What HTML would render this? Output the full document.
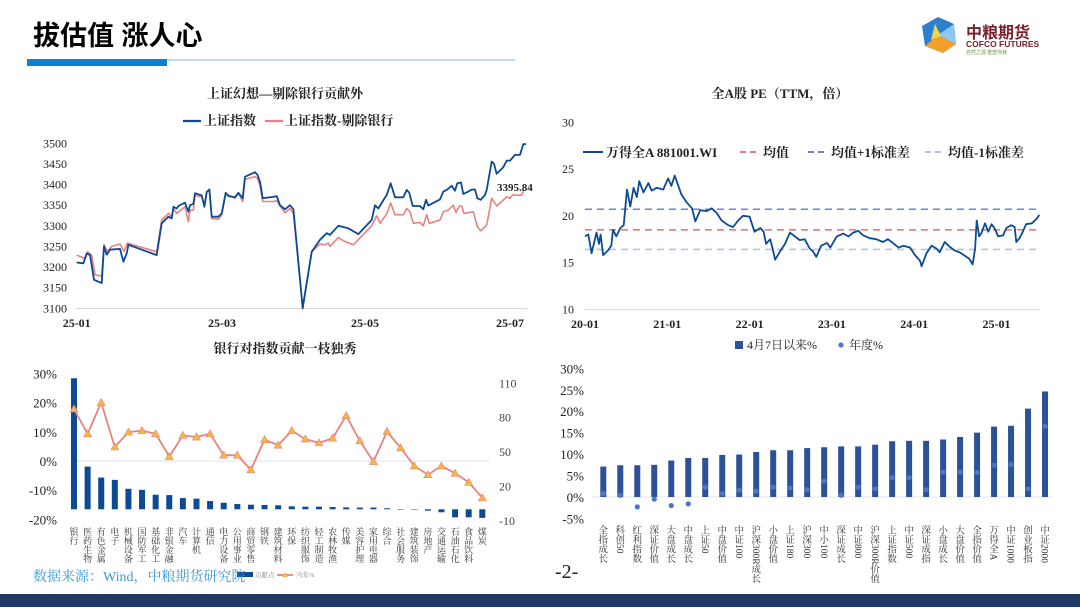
<!DOCTYPE html>
<html><head><meta charset="utf-8">
<style>
html,body{margin:0;padding:0;background:#fff;}
body{width:1080px;height:607px;overflow:hidden;position:relative;}
svg text{font-family:"Liberation Serif","Noto Serif CJK SC",serif;}
</style></head>
<body>
<svg id="page" width="1080" height="607" viewBox="0 0 1080 607" xmlns="http://www.w3.org/2000/svg">
  <text x="33" y="45" font-size="27" font-weight="bold" fill="#000" style="font-family:'Liberation Sans','Noto Sans CJK SC',sans-serif">拔估值 涨人心</text>
  <rect x="27" y="59" width="140" height="7" fill="#0a80cf"/>
  <rect x="167" y="59" width="348" height="2" fill="#bcd9ef"/>
  <g>
    <polygon points="938,17 954,24 956,44 943,53 925,46 922,26" fill="#2f7fd0"/>
    <polygon points="938,35 956,44 943,53 925,46" fill="#f2a02a"/>
    <polygon points="938,35 954,24 956,44" fill="#8cc8ef"/>
    <polygon points="935,24 941,36 931,40" fill="#e8d94a"/>
    <text x="966" y="38" font-size="16" font-weight="bold" fill="#7a1f2b" style="font-family:'Liberation Sans','Noto Sans CJK SC',sans-serif">中粮期货</text>
    <text x="966" y="47" font-size="8.5" font-weight="bold" fill="#7a1f2b" style="font-family:'Liberation Sans',sans-serif">COFCO FUTURES</text>
    <text x="966" y="54" font-size="5" fill="#6a9a3a" style="font-family:'Noto Sans CJK SC',sans-serif">自然之源 重塑你我</text>
  </g>
  <g id="c1"></g><g id="c2"></g><g id="c3"></g><g id="c4"></g>
  <text x="33" y="581" font-size="14" fill="#3d9ad9">数据来源：Wind，中粮期货研究院</text>
  <text x="555" y="578" font-size="20" fill="#222">-2-</text>
  <rect x="0" y="594" width="1080" height="13" fill="#1f3864"/>
</svg>
<script>
// ---------- Chart 1 data: 上证指数 vs 剔除银行 ----------
const c1BlueDays=[0,2,3,4,5.2,7.5,8.2,9,10,13,14,15,15.5,24,25.5,27.5,28.5,29,30,30.5,32.5,33.5,34,35,35.5,37.5,38.3,39,39.8,40.5,42.5,43.5,44.7,45.5,47.5,48.5,49.8,50.5,53.5,54.2,55,55.8,59,60,61,62.5,64,65,67.8,70.5,73,75,76,78.5,81.5,84.5,88.5,89.5,90.5,93,94.2,95.5,98,99,99.8,100.8,103,104,104.8,105.5,109,110,111,112.5,113.5,114.2,115.3,116,117.5,118.5,119.5,120.2,121.2,122.5,123,124.5,125.2,126,128,129,130,131.5,133,134,134.8];
const c1BlueVals=[3211,3209,3233,3229,3169,3161,3250,3230,3242,3244,3213,3233,3254,3229,3306,3322,3318,3346,3342,3348,3356,3334,3350,3353,3379,3374,3346,3382,3388,3322,3322,3330,3380,3372,3369,3380,3367,3419,3430,3424,3407,3367,3370,3372,3350,3340,3350,3340,3100,3237,3266,3282,3278,3300,3294,3280,3314,3350,3342,3375,3403,3369,3369,3387,3380,3348,3348,3340,3363,3349,3364,3383,3387,3397,3385,3403,3405,3377,3383,3388,3388,3367,3363,3375,3387,3456,3450,3426,3442,3458,3458,3472,3472,3498,3498];
const c1RedDays=[0,2.5,3.3,4.5,5.5,7.5,8.2,9.2,10.5,13,14.2,15.2,24,25.5,27.5,28.5,29,30,32.5,33.5,34,35,35.5,37.5,38.3,39,39.8,40.5,42.5,43.5,44.7,47.5,48.5,49.8,50.5,53.5,54.2,55,55.8,59,60,61,62.5,64,65,67.8,70.5,73,74.5,75.5,76,78.5,80,81.5,83,88.5,90,91,93,94.2,95.5,98,99,100,101,103,104,105,105.8,109,110,111.5,113,113.8,114.8,115.5,116.2,119,120.2,121.2,123,124.5,126,129,130,130.8,133,133.5,134.2];
const c1RedVals=[3229,3221,3237,3229,3181,3178,3254,3238,3250,3256,3238,3258,3237,3314,3330,3322,3342,3330,3346,3310,3338,3338,3374,3370,3350,3382,3387,3318,3316,3326,3378,3367,3379,3359,3413,3419,3415,3397,3359,3359,3361,3348,3332,3342,3330,3104,3237,3256,3254,3258,3250,3272,3264,3259,3254,3300,3324,3306,3329,3355,3327,3327,3342,3334,3306,3308,3300,3327,3306,3314,3334,3338,3350,3332,3348,3348,3330,3334,3298,3288,3302,3367,3348,3370,3367,3375,3374,3375,3387];
const c1YTicks=[3100,3150,3200,3250,3300,3350,3400,3450,3500];
const c1XTickDays=[0,43.6,86.5,130];
const c1XTickLabels=["25-01","25-03","25-05","25-07"];
const c1Annot=["3395.84"];

// ---------- Chart 2 data: 全A PE ----------
const c2Years=[2020.00,2020.04,2020.08,2020.12,2020.14,2020.17,2020.19,2020.22,2020.28,2020.32,2020.34,2020.38,2020.43,2020.47,2020.51,2020.55,2020.59,2020.63,2020.66,2020.71,2020.77,2020.81,2020.87,2020.95,2021.01,2021.05,2021.09,2021.13,2021.17,2021.23,2021.30,2021.34,2021.40,2021.48,2021.54,2021.60,2021.66,2021.74,2021.80,2021.86,2021.92,2022.00,2022.06,2022.13,2022.17,2022.20,2022.25,2022.28,2022.31,2022.37,2022.43,2022.49,2022.55,2022.61,2022.67,2022.73,2022.77,2022.81,2022.87,2022.94,2022.98,2023.06,2023.14,2023.20,2023.26,2023.32,2023.38,2023.46,2023.54,2023.62,2023.68,2023.74,2023.81,2023.87,2023.95,2024.01,2024.07,2024.09,2024.15,2024.21,2024.27,2024.31,2024.37,2024.43,2024.49,2024.55,2024.62,2024.67,2024.71,2024.74,2024.76,2024.79,2024.82,2024.86,2024.90,2024.94,2024.98,2025.02,2025.08,2025.12,2025.18,2025.22,2025.24,2025.28,2025.32,2025.36,2025.43,2025.49,2025.52];
const c2PE=[17.8,18,16,17.5,18.2,17,18,15.8,16.3,16.8,18.5,17.8,18.7,19,22.8,21,23,22,23.7,22.5,23.5,22.7,23,22.8,24,23.2,24.3,23.3,22.3,21.5,20.8,19.4,20.6,20.5,20.8,20.3,19.5,19,18.8,19.5,20,19.9,18.3,18.7,18.3,17,17.5,16.5,15.3,16.2,17,18.2,17.8,17.4,17.5,16.5,16.2,15.6,16.8,17.1,16.6,17.8,18.1,17.8,18.2,18.4,17.9,17.6,17.5,17.2,17.5,17.1,16.6,16.8,16.6,15.8,15.2,14.6,16,16.8,16.5,16.1,17.2,16.7,16.3,16.1,15.7,15.4,14.8,16.5,19.5,17.8,18.2,19.2,18.3,19.1,18.6,17.8,17.9,18.7,19,18.8,17.2,17.6,18.3,19.1,19.2,19.7,20.1];
const c2Mean=[18.5];
const c2Plus=[20.7];
const c2Minus=[16.4];
const c2YTicks=[10,15,20,25,30];
const c2XTickYears=[2020,2021,2022,2023,2024,2025];
const c2XTickLabels=["20-01","21-01","22-01","23-01","24-01","25-01"];

// ---------- Chart 3 data: 行业贡献 ----------
const c3Cats=["银行","医药生物","有色金属","电子","机械设备","国防军工","基础化工","非银金融","汽车","计算机","通信","电力设备","公用事业","商贸零售","钢铁","建筑材料","环保","纺织服饰","轻工制造","农林牧渔","传媒","美容护理","家用电器","综合","社会服务","建筑装饰","房地产","交通运输","石油石化","食品饮料","煤炭"];
const c3Contrib=[114.4,37.3,27.7,25.7,17.9,17,12.7,12.4,9.8,9.3,7.2,5.7,4.6,4,3.8,3.5,2.6,2.3,2.3,2,1.7,1.5,1.5,0.9,0.1,-0.3,-1.2,-2.6,-7,-7,-7.5];
const c3YearPct=[17.8,9.3,20,4.8,9.9,10.4,9.3,1.5,8.8,8.2,9.3,2.0,2.0,-3.0,7.3,5.4,10.4,7.5,6.2,7.8,15.5,6.9,-0.2,10.1,4.5,-1.7,-4.7,-1.7,-4.2,-7.3,-12.6];
const c3LeftTicks=[-20,-10,0,10,20,30];
const c3RightTicks=[-10,20,50,80,110];

// ---------- Chart 4 data: 指数涨幅 ----------
const c4Cats=["全指成长","科创50","红利指数","深证价值","大盘成长","中盘成长","上证50","中盘价值","中证100","沪深300R成长","小盘价值","上证180","沪深300","中小100","深证成长","中证800","沪深300R价值","上证指数","中证500","深证成指","小盘成长","大盘价值","全指价值","万得全A","中证1000","创业板指","中证2000"];
const c4Since=[7.1,7.4,7.4,7.5,8.5,9.1,9.1,9.8,9.9,10.5,10.9,10.9,11.4,11.6,11.8,11.8,12.2,13,13.1,13.1,13.4,14,15,16.4,16.6,20.6,24.6];
const c4Year=[0.8,0.4,-2.3,-0.5,-2.0,-1.6,2.3,0.8,1.6,1.4,2.3,2.1,1.7,3.7,0.4,2.3,1.9,4.5,4.5,1.7,5.8,5.8,5.7,7.4,7.6,1.9,16.5];
const c4YTicks=[-5,0,5,10,15,20,25,30];

const NS="http://www.w3.org/2000/svg";
function mk(parent,tag,attrs,txt){const e=document.createElementNS(NS,tag);for(const k in attrs)e.setAttribute(k,attrs[k]);if(txt!==undefined)e.textContent=txt;parent.appendChild(e);return e;}
function lin(d0,d1,r0,r1){return v=>r0+(v-d0)*(r1-r0)/(d1-d0);}
function path(xs,ys,fx,fy){return xs.map((x,i)=>(i?'L':'M')+fx(x).toFixed(1)+','+fy(ys[i]).toFixed(1)).join('');}
// vertical label: CJK upright stacked, latin runs rotated 90deg
function vlabel(g,str,cx,top,fs){
  const grp=mk(g,'g',{});
  
  
  const runs=str.match(/[\x00-\x7F]+|[^\x00-\x7F]/g);
  let y=top;
  runs.forEach(r=>{
    if(/^[\x00-\x7F]+$/.test(r)){
      const len=r.length*fs*0.5;
      mk(grp,'text',{x:0,y:0,'font-size':fs,fill:'#333',transform:`translate(${cx-fs*0.35},${y}) rotate(90)`},r);
      y+=len+1;
    }else{
      mk(grp,'text',{x:cx,y:y+fs*0.88,'font-size':fs,fill:'#333','text-anchor':'middle'},r);
      y+=fs;
    }
  });
}

// ===== Chart 1 =====
(function(){
const g=document.getElementById('c1');
const x=lin(0,134.8,76.7,526),y=lin(3100,3500,308.3,143.3);
let t=mk(g,'text',{x:285,y:98,'font-size':13,'font-weight':'bold','text-anchor':'middle',fill:'#222'},'上证幻想—剔除银行贡献外');

let l=mk(g,'line',{x1:183,y1:121,x2:201,y2:121,stroke:'#0c4a94','stroke-width':2.2});

t=mk(g,'text',{x:204,y:125,'font-size':13,'font-weight':'bold',fill:'#222'},'上证指数');

l=mk(g,'line',{x1:265,y1:121,x2:283,y2:121,stroke:'#e8827f','stroke-width':2.2});

t=mk(g,'text',{x:285,y:125,'font-size':13,'font-weight':'bold',fill:'#222'},'上证指数-剔除银行');

c1YTicks.forEach(v=>{const e=mk(g,'text',{x:67,y:y(v)+4,'font-size':12,'text-anchor':'end',fill:'#222'},String(v));
});
l=mk(g,'line',{x1:76,y1:308.5,x2:527,y2:308.5,stroke:'#d9d9d9','stroke-width':1});

c1XTickDays.forEach((d,i)=>{const e=mk(g,'text',{x:x(d),y:327,'font-size':12,'font-weight':'bold','text-anchor':'middle',fill:'#222'},c1XTickLabels[i]);
});
let p=mk(g,'path',{d:path(c1RedDays,c1RedVals,x,y),fill:'none',stroke:'#e8827f','stroke-width':1.6,'stroke-linejoin':'round'});

p=mk(g,'path',{d:path(c1BlueDays,c1BlueVals,x,y),fill:'none',stroke:'#0c4a94','stroke-width':1.8,'stroke-linejoin':'round'});

t=mk(g,'text',{x:497,y:191,'font-size':11,'font-weight':'bold',fill:'#222'},c1Annot[0]);

})();

// ===== Chart 2 =====
(function(){
const g=document.getElementById('c2');
const x=lin(2020,2025,585,996.5),y=lin(10,30,309.3,122.3);
let t=mk(g,'text',{x:780,y:98,'font-size':13,'font-weight':'bold','text-anchor':'middle',fill:'#222'},'全A股 PE（TTM，倍）');

c2YTicks.forEach(v=>{const e=mk(g,'text',{x:574,y:y(v)+4,'font-size':12,'text-anchor':'end',fill:'#222'},String(v));
});
let l=mk(g,'line',{x1:585,y1:309.5,x2:1040,y2:309.5,stroke:'#d9d9d9','stroke-width':1});

c2XTickYears.forEach((yr,i)=>{const e=mk(g,'text',{x:x(yr),y:328,'font-size':12,'font-weight':'bold','text-anchor':'middle',fill:'#222'},c2XTickLabels[i]);
});
[[c2Plus[0],'#6f86d6','plus-1-std-line'],[c2Mean[0],'#f07878','mean-line'],[c2Minus[0],'#b4c3ea','minus-1-std-line']].forEach(a=>{
const e=mk(g,'line',{x1:585,x2:1040,y1:y(a[0]),y2:y(a[0]),stroke:a[1],'stroke-width':1.6,'stroke-dasharray':'7,5'});
});
let p=mk(g,'path',{d:path(c2Years,c2PE,x,y),fill:'none',stroke:'#0c4a94','stroke-width':1.8,'stroke-linejoin':'round'});

const lg=[[583,'#0c4a94','','万得全A 881001.WI','legend-pe'],[740,'#f07878','6,4','均值','legend-mean'],[808,'#6f86d6','6,4','均值+1标准差','legend-plus-std'],[925,'#b4c3ea','6,4','均值-1标准差','legend-minus-std']];
lg.forEach(a=>{const ln=mk(g,'line',{x1:a[0],x2:a[0]+20,y1:152,y2:152,stroke:a[1],'stroke-width':2,'stroke-dasharray':a[2]||'none'});

const e=mk(g,'text',{x:a[0]+23,y:157,'font-size':13,'font-weight':'bold',fill:'#222'},a[3]);
});
})();

// ===== Chart 3 =====
(function(){
const g=document.getElementById('c3');
const x=i=>74+i*13.61;
const yl=lin(0,30,461,373.3),yr=lin(0,110,509.3,383.3);
let t=mk(g,'text',{x:285,y:353,'font-size':13,'font-weight':'bold','text-anchor':'middle',fill:'#222'},'银行对指数贡献一枝独秀');

c3LeftTicks.forEach(v=>{const e=mk(g,'text',{x:57,y:yl(v)+5,'font-size':13,'text-anchor':'end',fill:'#222'},v+'%');
});
c3RightTicks.forEach(v=>{const e=mk(g,'text',{x:499,y:yr(v)+4,'font-size':12,fill:'#444'},String(v));
});
let l=mk(g,'line',{x1:70,y1:yl(0),x2:490,y2:yl(0),stroke:'#e3e3e3','stroke-width':1});

c3Contrib.forEach((v,i)=>{const y0=yr(0),y1=yr(v);
const r=mk(g,'rect',{x:x(i)-3,y:Math.min(y0,y1),width:6,height:Math.max(0.5,Math.abs(y1-y0)),fill:'#0c4a94'});
});
let p=mk(g,'path',{d:path(c3YearPct.map((_,i)=>i),c3YearPct,x,yl),fill:'none',stroke:'#e8827f','stroke-width':1.8});

c3YearPct.forEach((v,i)=>{const cx=x(i),cy=yl(v);
const m=mk(g,'polygon',{points:`${cx},${cy-4} ${cx+4},${cy+3} ${cx-4},${cy+3}`,fill:'#f5b942',stroke:'#e8827f','stroke-width':0.6});
});
c3Cats.forEach((c,i)=>vlabel(g,c,x(i),527,9));
let r=mk(g,'rect',{x:237,y:572,width:16,height:5,fill:'#0c4a94'});

t=mk(g,'text',{x:255,y:577,'font-size':6.5,fill:'#888'},'贡献点');

l=mk(g,'line',{x1:277,y1:575,x2:293,y2:575,stroke:'#e8827f','stroke-width':1.8});

const lm=mk(g,'polygon',{points:'285,572 288,577 282,577',fill:'#f5b942'});


t=mk(g,'text',{x:296,y:577,'font-size':6.5,fill:'#888'},'当年%');

})();

// ===== Chart 4 =====
(function(){
const g=document.getElementById('c4');
const x=i=>603.3+i*16.99;
const y=lin(0,30,497,368.3);
c4YTicks.forEach(v=>{const e=mk(g,'text',{x:584,y:y(v)+5,'font-size':13,'text-anchor':'end',fill:'#222'},v+'%');
});
let l=mk(g,'line',{x1:592,y1:y(0),x2:1052,y2:y(0),stroke:'#e6e6e6','stroke-width':1});

c4Since.forEach((v,i)=>{const r=mk(g,'rect',{x:x(i)-3,y:y(v),width:6,height:y(0)-y(v),fill:'#2d5197'});
});
c4Year.forEach((v,i)=>{const c=mk(g,'circle',{cx:x(i),cy:y(v),r:2.6,fill:'#4a77c9'});
});
c4Cats.forEach((c,i)=>vlabel(g,c,x(i),525,9.5));
let r=mk(g,'rect',{x:735,y:341,width:8,height:8,fill:'#2d5197'});

let t=mk(g,'text',{x:747,y:349,'font-size':12,fill:'#222'},'4月7日以来%');

let c=mk(g,'circle',{cx:841,cy:345,r:2.6,fill:'#4a77c9'});

t=mk(g,'text',{x:849,y:349,'font-size':12,fill:'#222'},'年度%');

})();
</script>
</body></html>
